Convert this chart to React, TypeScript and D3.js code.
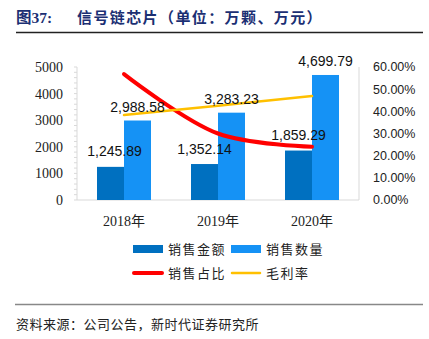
import React from "react";
import * as d3 from "d3";

const categories = ["2018年", "2019年", "2020年"];
const salesAmount = [1245.89, 1352.14, 1859.29];
const salesVolume = [2988.58, 3283.23, 4699.79];
const salesShare = [0.568, 0.3, 0.24];
const grossMargin = [0.383, 0.425, 0.469];
const leftTicks = [0, 1000, 2000, 3000, 4000, 5000];
const rightTicks = [0, 0.1, 0.2, 0.3, 0.4, 0.5, 0.6];

const fmt = d3.format(",.2f");
const pct = (v: number) => (v * 100).toFixed(2) + "%";

export default function App() {
  const W = 429, H = 339;
  const x0 = 77, x1 = 359, yTop = 67, yBot = 200;
  const x = d3.scaleBand().domain(categories).range([x0, x1]);
  const yL = d3.scaleLinear().domain([0, 5000]).range([yBot, yTop]);
  const yR = d3.scaleLinear().domain([0, 0.6]).range([yBot, yTop]);
  const bw = 27;
  const cx = (c: string) => (x(c) as number) + x.bandwidth() / 2;
  const line = d3.line<number>().curve(d3.curveCatmullRom.alpha(0.5));
  const redPts = categories.map((c, i) => [cx(c), yR(salesShare[i])] as [number, number]);
  const yelPts = categories.map((c, i) => [cx(c), yR(grossMargin[i])] as [number, number]);
  const lineGen = d3.line().curve(d3.curveCatmullRom.alpha(0.5));
  const minor = d3.range(0, 5001, 200);
  const dark = "#0070C0", light = "#1592F5";
  const numFont = "'Liberation Sans', Arial, sans-serif";
  const serif = "'Liberation Serif', 'Times New Roman', 'Noto Sans CJK SC', serif";
  const cjk = "'Noto Sans CJK SC', sans-serif";
  return (
    <svg width={W} height={H} style={{ position: "absolute", left: 0, top: 0, background: "#fff" }}>
      <rect width={W} height={H} fill="#fff" />
      {/* title */}
      <text x={16} y={23} fontFamily={serif} fontWeight="bold" fontSize={15.5} fill="#1B2F73">图37:</text>
      <text x={77} y={23} fontFamily={cjk} fontWeight="bold" fontSize={15} letterSpacing={1.4} fill="#1B2F73">信号链芯片（单位：万颗、万元）</text>
      <line x1={16} x2={423} y1={32.5} y2={32.5} stroke="#222" strokeWidth={1.5} />

      {/* axes */}
      <line x1={x0} x2={x0} y1={yTop} y2={yBot} stroke="#d9d9d9" />
      {minor.map((v) => (
        <line key={v} x1={x0 - 3} x2={x0} y1={yL(v)} y2={yL(v)} stroke="#d9d9d9" />
      ))}
      <line x1={x1} x2={x1} y1={yTop} y2={yBot} stroke="#d9d9d9" />
      <line x1={x0} x2={x1} y1={yBot} y2={yBot} stroke="#d9d9d9" />

      {leftTicks.map((t) => (
        <text key={t} x={63} y={yL(t)} dy="0.35em" textAnchor="end" fontFamily={serif} fontSize={14} fill="#222">{t}</text>
      ))}
      {rightTicks.map((t) => (
        <text key={t} x={373} y={yR(t)} dy="0.35em" fontFamily={numFont} fontSize={12.5} fill="#222">{pct(t)}</text>
      ))}
      {categories.map((c) => (
        <text key={c} x={cx(c)} y={221} dy="0.35em" textAnchor="middle" fontFamily={serif} fontSize={14} fill="#222">{c}</text>
      ))}

      {/* bars */}
      {categories.map((c, i) => (
        <g key={c}>
          <rect x={cx(c) - bw} y={yL(salesAmount[i])} width={bw} height={yBot - yL(salesAmount[i])} fill={dark} />
          <rect x={cx(c)} y={yL(salesVolume[i])} width={bw} height={yBot - yL(salesVolume[i])} fill={light} />
        </g>
      ))}

      {/* lines */}
      <path d={lineGen(redPts) || ""} fill="none" stroke="#FF0000" strokeWidth={4} strokeLinecap="round" />
      <path d={lineGen(yelPts) || ""} fill="none" stroke="#FFC000" strokeWidth={2.5} strokeLinecap="round" />

      {/* labels */}
      {categories.map((c, i) => (
        <g key={c}>
          <text x={cx(c) - bw / 2 + (i === 0 ? 4 : 0)} y={yL(salesAmount[i]) - 10.5} textAnchor="middle" fontFamily={numFont} fontSize={14} fill="#111">{fmt(salesAmount[i])}</text>
          <text x={cx(c) + bw / 2} y={yL(salesVolume[i]) - 8.5} textAnchor="middle" fontFamily={numFont} fontSize={14} fill="#111">{fmt(salesVolume[i])}</text>
        </g>
      ))}

      {/* legend */}
      <rect x={133} y={245} width={30} height={8} fill={dark} />
      <text x={168} y={249} dy="0.35em" fontFamily={cjk} fontSize={13} letterSpacing={1.5} fill="#222">销售金额</text>
      <rect x={231} y={245} width={30} height={8} fill={light} />
      <text x={266} y={249} dy="0.35em" fontFamily={cjk} fontSize={13} letterSpacing={1.5} fill="#222">销售数量</text>
      <line x1={134} x2={162} y1={273} y2={273} stroke="#FF0000" strokeWidth={4} strokeLinecap="round" />
      <text x={168} y={273} dy="0.35em" fontFamily={cjk} fontSize={13} letterSpacing={1.5} fill="#222">销售占比</text>
      <line x1={232} x2={260} y1={273} y2={273} stroke="#FFC000" strokeWidth={2.5} strokeLinecap="round" />
      <text x={266} y={273} dy="0.35em" fontFamily={cjk} fontSize={13} letterSpacing={1.5} fill="#222">毛利率</text>

      {/* source */}
      <line x1={15} x2={423} y1={304.5} y2={304.5} stroke="#888" strokeWidth={1.5} />
      <text x={16} y={324} dy="0.35em" fontFamily={cjk} fontSize={13} letterSpacing={0.5} fill="#222">资料来源：公司公告，新时代证券研究所</text>
    </svg>
  );
}
